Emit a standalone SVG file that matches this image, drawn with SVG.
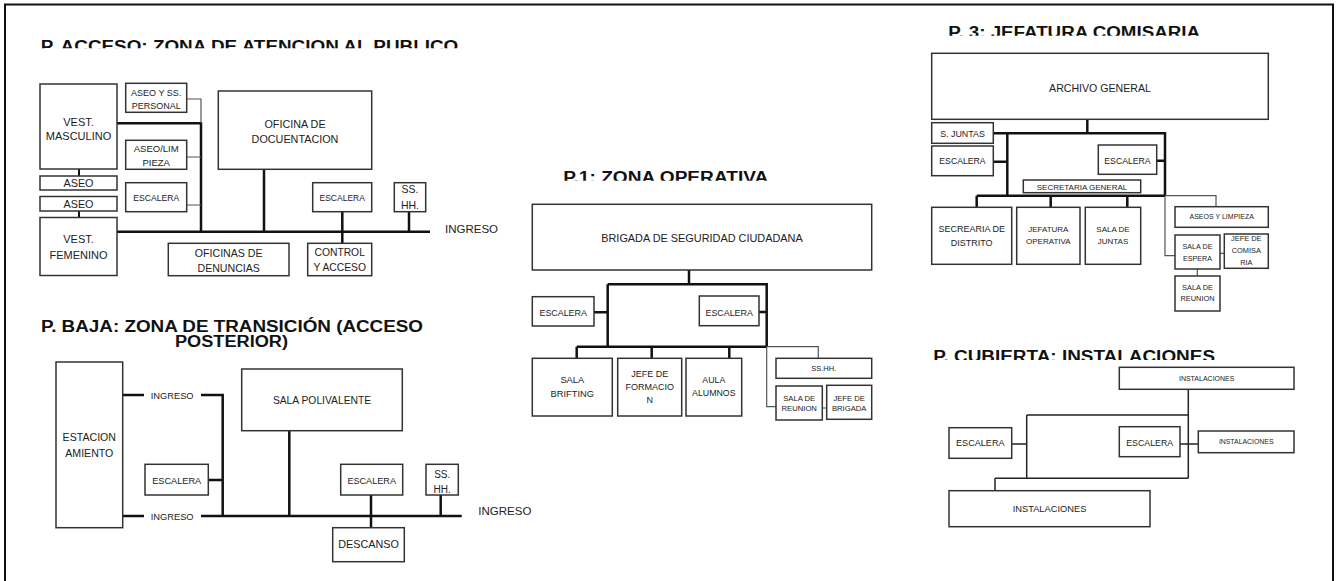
<svg xmlns="http://www.w3.org/2000/svg" width="1339" height="581" viewBox="0 0 1339 581">
<style>
.bx{fill:#fff;stroke:#333;stroke-width:1.5}
.tx{font-family:"Liberation Sans",Arial,sans-serif;fill:#222;text-anchor:middle}
.lb{font-family:"Liberation Sans",Arial,sans-serif;fill:#222}
.ti{font-family:"Liberation Sans",Arial,sans-serif;font-weight:bold;font-size:16px;fill:#111}
.thk{fill:none;stroke:#111;stroke-width:2.5}
.thn{fill:none;stroke:#555;stroke-width:1.2}
.med{fill:none;stroke:#222;stroke-width:1.5}
</style>
<defs>
<clipPath id="c1"><rect x="0" y="0" width="1339" height="48.3"/></clipPath>
<clipPath id="c3"><rect x="0" y="150" width="1339" height="30.7"/></clipPath>
<clipPath id="c4"><rect x="0" y="0" width="1339" height="35.7"/></clipPath>
<clipPath id="c5"><rect x="0" y="330" width="1339" height="30"/></clipPath>
</defs>
<rect x="0" y="0" width="1339" height="581" fill="#fff"/>
<rect x="5" y="4.5" width="1328" height="620" fill="none" stroke="#111" stroke-width="2"/>

<g id="titles">
<text class="ti" x="40.7" y="51.6" textLength="417.6" lengthAdjust="spacingAndGlyphs" clip-path="url(#c1)">P. ACCESO: ZONA DE ATENCION AL PUBLICO</text>
<text class="ti" x="41" y="332.3" textLength="382" lengthAdjust="spacingAndGlyphs">P. BAJA: ZONA DE TRANSICIÓN (ACCESO</text>
<text class="ti" x="175" y="347.3" textLength="113" lengthAdjust="spacingAndGlyphs">POSTERIOR)</text>
<text class="ti" x="563.3" y="183.3" textLength="205" lengthAdjust="spacingAndGlyphs" clip-path="url(#c3)">P.1: ZONA OPERATIVA</text>
<text class="ti" x="948.3" y="38.3" textLength="251.7" lengthAdjust="spacingAndGlyphs" clip-path="url(#c4)">P. 3: JEFATURA COMISARIA</text>
<text class="ti" x="933.3" y="362.3" textLength="281.7" lengthAdjust="spacingAndGlyphs" clip-path="url(#c5)">P. CUBIERTA: INSTALACIONES</text>
</g>

<g id="connectors">
<!-- P. ACCESO -->
<path class="thk" d="M117,123.3 H201 V231.7 M117,231.7 H430 M264,169.3 V231.7 M342.3,211.7 V243.3 M409,211.7 V231.7"/>
<path class="thk" d="M79,169 V176 M79,210.5 V217.5" style="stroke-width:2"/>
<path class="thn" d="M186.7,99 H201 V123 M186.7,157 H201 M186.7,205 H201"/>
<text class="lb" x="445" y="233" font-size="11.5">INGRESO</text>
<!-- P. BAJA -->
<path class="thk" d="M122.7,395 H144 M201,395 H222.7 V516 M122.7,516 H144 M201,516 H461.7 M208.3,480 H222.7 M289.3,430.7 V516 M371,495 V527.7 M440.7,495 V516"/>
<text class="lb" x="150.7" y="398.6" font-size="9.3">INGRESO</text>
<text class="lb" x="150.7" y="519.6" font-size="9.3">INGRESO</text>
<text class="lb" x="478.3" y="515" font-size="11.5">INGRESO</text>
<!-- P.1 -->
<path class="thk" d="M689,270 V284.3 M607.7,284.3 H766.7 V346.7 M607.7,284.3 V346.7 M576.7,346.7 H766.7 M576.7,346.7 V358.3 M651.7,346.7 V358.3 M729.3,346.7 V358.3 M594,312.3 H607.7 M759,312 H766.7"/>
<path class="thn" d="M766.7,346.7 H818.3 V358.3 M766.7,346.7 V406.7 H776 M822.3,408 H826.7"/>
<!-- P.3 -->
<path class="thk" d="M1087.3,119.3 V133.3 M993.3,133.3 H1165 V195.7 M1007.3,133.3 V195.7 M976.7,195.7 H1165 M976.7,195.7 V207.3 M1050.7,195.7 V207.3 M1127.3,195.7 V207.3 M993.3,161.7 H1007.3 M1156.7,160.7 H1165"/>
<path class="thn" d="M1165,195.7 H1216 V206.7 M1165,195.7 V255.7 H1175 M1220,253.3 H1224.3 M1197.3,269 V276"/>
<!-- P. CUBIERTA -->
<path class="med" d="M1188.3,389.3 V478.3 M1026.7,415 H1188.3 M1026.7,415 V478.3 M995,478.3 H1188.3 M995,478.3 V490.7 M1011.7,444 H1026.7 M1180,444 H1198.3"/>
</g>

<!-- P. ACCESO nodes -->
<g id="n-vest-masc"><rect class="bx" x="40" y="84" width="77" height="85"/><text class="tx" x="78.5" y="125.7" font-size="11">VEST.</text><text class="tx" x="78.5" y="140" font-size="11">MASCULINO</text></g>
<g id="n-aseo1"><rect class="bx" x="40" y="176" width="77" height="14"/><text class="tx" x="78.5" y="187.3" font-size="10.8">ASEO</text></g>
<g id="n-aseo2"><rect class="bx" x="40" y="196.5" width="77" height="14.5"/><text class="tx" x="78.5" y="207.8" font-size="10.8">ASEO</text></g>
<g id="n-vest-fem"><rect class="bx" x="40" y="217.5" width="77" height="58"/><text class="tx" x="78.5" y="243" font-size="11">VEST.</text><text class="tx" x="78.5" y="259" font-size="11">FEMENINO</text></g>
<g id="n-aseo-ss"><rect class="bx" x="125.7" y="83.3" width="61" height="29"/><text class="tx" x="156.2" y="95.7" font-size="9">ASEO Y SS.</text><text class="tx" x="156.2" y="109" font-size="9">PERSONAL</text></g>
<g id="n-aseo-lim"><rect class="bx" x="125.7" y="140.3" width="61" height="29"/><text class="tx" x="156.2" y="152" font-size="9.5">ASEO/LIM</text><text class="tx" x="156.2" y="166" font-size="9.5">PIEZA</text></g>
<g id="n-esc-a1"><rect class="bx" x="125.7" y="182.7" width="61" height="29"/><text class="tx" x="156.2" y="200.7" font-size="8.6">ESCALERA</text></g>
<g id="n-ofi-doc"><rect class="bx" x="218.3" y="91" width="153.4" height="78.3"/><text class="tx" x="295" y="127.5" font-size="10.8">OFICINA DE</text><text class="tx" x="295" y="142.5" font-size="10.8">DOCUENTACION</text></g>
<g id="n-ofi-den"><rect class="bx" x="168.3" y="243.3" width="120.7" height="32.4"/><text class="tx" x="228.7" y="256.5" font-size="10.6">OFICINAS DE</text><text class="tx" x="228.7" y="272.3" font-size="10.6">DENUNCIAS</text></g>
<g id="n-esc-a2"><rect class="bx" x="312.7" y="182.7" width="59" height="29"/><text class="tx" x="342.2" y="200.7" font-size="8.5">ESCALERA</text></g>
<g id="n-control"><rect class="bx" x="307.7" y="243.3" width="64" height="32.4"/><text class="tx" x="339.7" y="256" font-size="10.3">CONTROL</text><text class="tx" x="339.7" y="271" font-size="10.3">Y ACCESO</text></g>
<g id="n-sshh-a"><rect class="bx" x="394.3" y="182.7" width="31.4" height="29"/><text class="tx" x="410" y="193.3" font-size="10.5">SS.</text><text class="tx" x="410" y="209" font-size="10.5">HH.</text></g>

<!-- P. BAJA nodes -->
<g id="n-estac"><rect class="bx" x="56" y="362" width="66.7" height="165.7"/><text class="tx" x="89.3" y="440.7" font-size="10.6">ESTACION</text><text class="tx" x="89.3" y="456.7" font-size="10.6">AMIENTO</text></g>
<g id="n-esc-b1"><rect class="bx" x="145" y="464.3" width="63.3" height="30.7"/><text class="tx" x="176.7" y="484" font-size="9.2">ESCALERA</text></g>
<g id="n-sala-poli"><rect class="bx" x="241.7" y="369" width="160.6" height="61.7"/><text class="tx" x="322" y="404" font-size="10.3">SALA POLIVALENTE</text></g>
<g id="n-esc-b2"><rect class="bx" x="340.7" y="464.3" width="62" height="30.7"/><text class="tx" x="371.7" y="483.5" font-size="9.1">ESCALERA</text></g>
<g id="n-sshh-b"><rect class="bx" x="426" y="464.3" width="32.3" height="30.7"/><text class="tx" x="442.2" y="477.7" font-size="10">SS.</text><text class="tx" x="442.2" y="492.7" font-size="10">HH.</text></g>
<g id="n-descanso"><rect class="bx" x="332.7" y="527.7" width="71.6" height="34"/><text class="tx" x="368.5" y="548.3" font-size="10.8">DESCANSO</text></g>

<!-- P.1 nodes -->
<g id="n-brigada"><rect class="bx" x="532.3" y="204.3" width="339.4" height="65.7"/><text class="tx" x="702" y="242.3" font-size="10.9">BRIGADA DE SEGURIDAD CIUDADANA</text></g>
<g id="n-esc-c1"><rect class="bx" x="532.3" y="296.7" width="61.7" height="29.3"/><text class="tx" x="563.2" y="315.7" font-size="8.9">ESCALERA</text></g>
<g id="n-esc-c2"><rect class="bx" x="699.3" y="296" width="59.7" height="29.7"/><text class="tx" x="729.2" y="315.5" font-size="8.9">ESCALERA</text></g>
<g id="n-sala-brif"><rect class="bx" x="532.3" y="358.3" width="80" height="57.7"/><text class="tx" x="572.3" y="383.3" font-size="9.3">SALA</text><text class="tx" x="572.3" y="397.3" font-size="9.3">BRIFTING</text></g>
<g id="n-jefe-form"><rect class="bx" x="617.7" y="358.3" width="64" height="57.7"/><text class="tx" x="649.7" y="377.3" font-size="9">JEFE DE</text><text class="tx" x="649.7" y="390" font-size="9">FORMACIO</text><text class="tx" x="649.7" y="402.7" font-size="9">N</text></g>
<g id="n-aula"><rect class="bx" x="686" y="358.3" width="55.7" height="57.7"/><text class="tx" x="713.8" y="383.3" font-size="8.8">AULA</text><text class="tx" x="713.8" y="395.7" font-size="8.8">ALUMNOS</text></g>
<g id="n-sshh-c"><rect class="bx" x="776" y="358.3" width="95.7" height="20"/><text class="tx" x="823.8" y="371.3" font-size="7.5">SS.HH.</text></g>
<g id="n-sala-reu-c"><rect class="bx" x="776" y="386" width="46.3" height="34"/><text class="tx" x="799.2" y="400.7" font-size="7.7">SALA DE</text><text class="tx" x="799.2" y="410.7" font-size="7.7">REUNION</text></g>
<g id="n-jefe-brig"><rect class="bx" x="826.7" y="385.3" width="45" height="34"/><text class="tx" x="849.2" y="400.7" font-size="7.7">JEFE DE</text><text class="tx" x="849.2" y="410.7" font-size="7.7">BRIGADA</text></g>

<!-- P.3 nodes -->
<g id="n-archivo"><rect class="bx" x="931.7" y="53.3" width="336.6" height="66"/><text class="tx" x="1100" y="91.7" font-size="10.6">ARCHIVO GENERAL</text></g>
<g id="n-sjuntas"><rect class="bx" x="931.7" y="122.7" width="61.6" height="20.6"/><text class="tx" x="962.5" y="137.3" font-size="8.9">S. JUNTAS</text></g>
<g id="n-esc-d1"><rect class="bx" x="931.7" y="146" width="61.6" height="29.7"/><text class="tx" x="962.5" y="164.3" font-size="8.7">ESCALERA</text></g>
<g id="n-esc-d2"><rect class="bx" x="1098.3" y="145" width="58.4" height="29.3"/><text class="tx" x="1127.5" y="164" font-size="8.7">ESCALERA</text></g>
<g id="n-secgen"><rect class="bx" x="1023.3" y="180" width="117.4" height="12.7"/><text class="tx" x="1082" y="189.5" font-size="8">SECRETARIA GENERAL</text></g>
<g id="n-secre-dist"><rect class="bx" x="931.7" y="207.3" width="80" height="57"/><text class="tx" x="971.7" y="232.3" font-size="9">SECREARIA DE</text><text class="tx" x="971.7" y="246" font-size="9">DISTRITO</text></g>
<g id="n-jef-oper"><rect class="bx" x="1016.7" y="207.3" width="63.3" height="57"/><text class="tx" x="1048.3" y="232.3" font-size="8">JEFATURA</text><text class="tx" x="1048.3" y="244" font-size="8">OPERATIVA</text></g>
<g id="n-sala-juntas"><rect class="bx" x="1085.3" y="207.3" width="55.4" height="57"/><text class="tx" x="1113" y="232.3" font-size="8">SALA DE</text><text class="tx" x="1113" y="244" font-size="8">JUNTAS</text></g>
<g id="n-aseos-limp"><rect class="bx" x="1175" y="206.7" width="93.3" height="20.6"/><text class="tx" x="1221.7" y="219.3" font-size="7">ASEOS Y LIMPIEZA</text></g>
<g id="n-sala-espera"><rect class="bx" x="1175" y="235" width="45" height="34"/><text class="tx" x="1197.5" y="249.3" font-size="7.2">SALA DE</text><text class="tx" x="1197.5" y="260.7" font-size="7.2">ESPERA</text></g>
<g id="n-jefe-comis"><rect class="bx" x="1224.3" y="234" width="44" height="34.3"/><text class="tx" x="1246.3" y="240.7" font-size="7.4">JEFE DE</text><text class="tx" x="1246.3" y="252.7" font-size="7.4">COMISA</text><text class="tx" x="1246.3" y="264.7" font-size="7.4">RIA</text></g>
<g id="n-sala-reu-d"><rect class="bx" x="1175" y="276" width="45" height="35"/><text class="tx" x="1197.5" y="290" font-size="7.4">SALA DE</text><text class="tx" x="1197.5" y="301" font-size="7.4">REUNION</text></g>

<!-- P. CUBIERTA nodes -->
<g id="n-inst-top"><rect class="bx" x="1119.3" y="367.3" width="174.7" height="22"/><text class="tx" x="1206.7" y="380.8" font-size="7">INSTALACIONES</text></g>
<g id="n-esc-e1"><rect class="bx" x="949" y="427.7" width="62.7" height="30.6"/><text class="tx" x="980.3" y="446.3" font-size="9.1">ESCALERA</text></g>
<g id="n-esc-e2"><rect class="bx" x="1119.3" y="426.7" width="60.7" height="30"/><text class="tx" x="1149.7" y="445.5" font-size="8.8">ESCALERA</text></g>
<g id="n-inst-right"><rect class="bx" x="1198.3" y="431" width="95.7" height="21.7"/><text class="tx" x="1246.2" y="444.3" font-size="6.9">INSTALACIONES</text></g>
<g id="n-inst-bot"><rect class="bx" x="949" y="490.7" width="201" height="36"/><text class="tx" x="1049.5" y="511.7" font-size="9.3">INSTALACIONES</text></g>
</svg>
